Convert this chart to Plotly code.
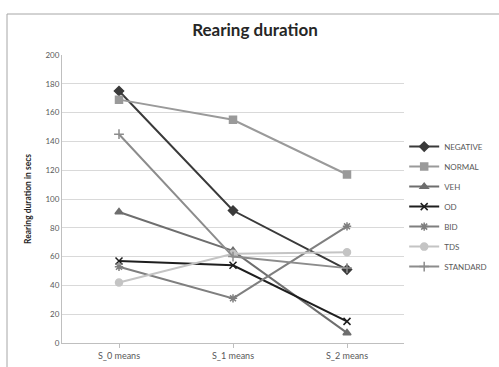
import plotly.graph_objects as go

categories = ["S_0 means", "S_1 means", "S_2 means"]
series_names = ["NEGATIVE", "NORMAL", "VEH", "OD", "BID", "TDS", "STANDARD"]
negative = [175, 92, 51]
normal = [169, 155, 117]
veh = [91, 64, 7]
od = [57, 54, 15]
bid = [53, 31, 81]
tds = [42, 62, 63]
standard = [145, 60, 52]
y_ticks = [0, 20, 40, 60, 80, 100, 120, 140, 160, 180, 200]

values = [negative, normal, veh, od, bid, tds, standard]
colors = ["#3a3a3a", "#9a9a9a", "#6e6e6e", "#1e1e1e", "#7f7f7f", "#c4c4c4", "#8c8c8c"]
symbols = ["diamond", "square", "triangle-up", "x-thin-open", "asterisk-open", "circle", "cross-thin-open"]
msizes = [7, 7, 7, 7, 7, 7, 7]

fig = go.Figure()
for i, (name, vals) in enumerate(zip(series_names, values)):
    fig.add_trace(go.Scatter(
        x=categories, y=vals, name=name, mode="lines+markers",
        line=dict(color=colors[i], width=2),
        marker=dict(symbol=symbols[i], size=msizes[i], color=colors[i],
                    line=dict(color=colors[i], width=1.5)),
        legendgroup=name,
    ))

fig.update_layout(
    width=499, height=367,
    margin=dict(l=62, r=95, t=55, b=24, autoexpand=False),
    paper_bgcolor="white", plot_bgcolor="white",
    font=dict(family="Lato, Liberation Sans, sans-serif", size=8, color="#595959"),
    title=dict(text="<b>Rearing duration</b>", x=0.511, xanchor="center", y=0.918, yanchor="middle",
               font=dict(size=17, color="#262626", family="Lato, sans-serif")),
    showlegend=True,
    legend=dict(xref="container", yref="container", x=0.81, xanchor="left", y=0.64, yanchor="top",
                font=dict(size=8, color="#595959"), tracegroupgap=1,
                itemwidth=30, bgcolor="rgba(0,0,0,0)"),
    xaxis=dict(showgrid=False, showline=True, linecolor="#bfbfbf", linewidth=1,
               ticks="outside", tickcolor="#bfbfbf", ticklen=4,
               tickfont=dict(size=9, color="#595959"), range=[-0.5, 2.5]),
    yaxis=dict(range=[0, 200], tickvals=y_ticks, showgrid=True, gridcolor="#d9d9d9", gridwidth=1,
               showline=True, linecolor="#bfbfbf", linewidth=1, zeroline=False,
               tickfont=dict(size=8, color="#595959"),
               title=dict(text="<b>Rearing duration in secs</b>", font=dict(size=8.5, color="#262626"), standoff=12)),
    shapes=[dict(type="rect", xref="paper", yref="paper",
                 x0=-55/342, x1=(499 - 62 + 5)/342, y0=-(367 - 343 + 5)/288, y1=(343 - 14)/288,
                 line=dict(color="#a6a6a6", width=1), fillcolor="rgba(0,0,0,0)", layer="below")],
)

fig.write_html("out.html")
